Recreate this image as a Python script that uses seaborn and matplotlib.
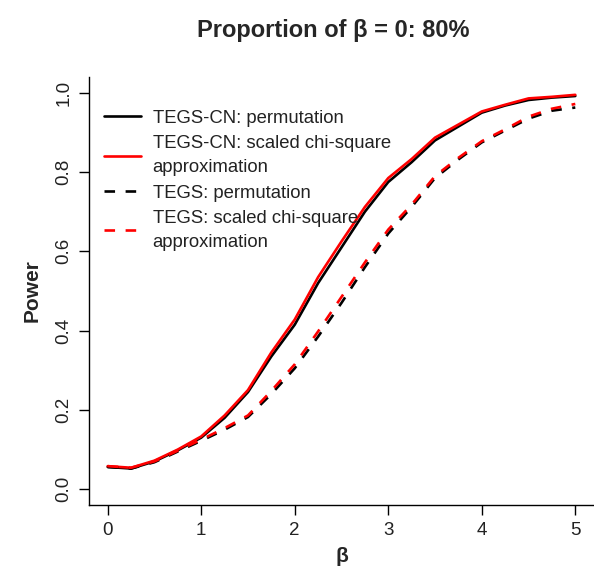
"""Power curves: TEGS-CN vs TEGS, permutation vs scaled chi-square approximation."""
import pandas as pd
import matplotlib
matplotlib.use("Agg")
import matplotlib.pyplot as plt
import seaborn as sns

beta = [0, 0.25, 0.5, 0.75, 1.0, 1.25, 1.5, 1.75, 2.0, 2.25, 2.5,
        2.75, 3.0, 3.25, 3.5, 3.75, 4.0, 4.25, 4.5, 4.75, 5.0]

tegscn_perm = [0.056, 0.052, 0.070, 0.098, 0.130, 0.180, 0.245, 0.335, 0.415, 0.520, 0.610,
               0.700, 0.775, 0.825, 0.880, 0.915, 0.950, 0.968, 0.982, 0.988, 0.992]
tegscn_chisq = [0.058, 0.054, 0.072, 0.100, 0.133, 0.186, 0.250, 0.345, 0.428, 0.535, 0.625,
                0.712, 0.785, 0.833, 0.887, 0.920, 0.953, 0.970, 0.986, 0.990, 0.995]
tegs_perm = [0.056, 0.052, 0.068, 0.095, 0.122, 0.150, 0.182, 0.240, 0.305, 0.385, 0.470,
             0.560, 0.645, 0.712, 0.785, 0.832, 0.875, 0.905, 0.935, 0.955, 0.963]
tegs_chisq = [0.058, 0.054, 0.070, 0.097, 0.125, 0.154, 0.186, 0.248, 0.315, 0.398, 0.485,
              0.572, 0.655, 0.718, 0.790, 0.836, 0.878, 0.908, 0.940, 0.960, 0.972]

labels = ["TEGS-CN: permutation",
          "TEGS-CN: scaled chi-square\napproximation",
          "TEGS: permutation",
          "TEGS: scaled chi-square\napproximation"]
x_ticks = [0, 1, 2, 3, 4, 5]
y_ticks = [0.0, 0.2, 0.4, 0.6, 0.8, 1.0]


def main():
    sns.set_style("ticks")
    plt.rcParams["font.family"] = ["Liberation Sans", "DejaVu Sans"]

    fig = plt.figure(figsize=(5.94, 5.72), dpi=100)
    ax = fig.add_axes([89 / 594, 67 / 572, 505 / 594, 428 / 572])

    series = [(tegscn_perm, "black", "-"),
              (tegscn_chisq, "#ff0000", "-"),
              (tegs_perm, "black", (0, (4, 4))),
              (tegs_chisq, "#ff0000", (0, (4, 4)))]
    for (vals, col, ls), lab in zip(series, labels):
        df = pd.DataFrame({"beta": beta, "power": vals})
        sns.lineplot(data=df, x="beta", y="power", color=col, linestyle=ls,
                     linewidth=1.9, label=lab, ax=ax)

    ax.set_xlim(-0.2, 5.2)
    ax.set_ylim(-0.04, 1.04)
    ax.set_xticks(x_ticks)
    ax.set_xticklabels([str(t) for t in x_ticks])
    ax.set_yticks(y_ticks)
    ax.set_yticklabels([f"{t:.1f}" for t in y_ticks], rotation=90, va="center")
    ax.tick_params(axis="both", direction="out", length=7, width=1, colors="black",
                   labelsize=13.5, labelcolor="#222222")
    ax.tick_params(axis="x", pad=5)
    ax.tick_params(axis="y", pad=5)
    for side in ["top", "right"]:
        ax.spines[side].set_visible(False)
    for side in ["left", "bottom"]:
        ax.spines[side].set_linewidth(1)
        ax.spines[side].set_color("black")

    ax.set_xlabel("β", fontsize=15, fontweight="bold", labelpad=6)
    ax.set_ylabel("Power", fontsize=15, fontweight="bold", labelpad=10)
    fig.suptitle("Proportion of β = 0: 80%", fontsize=17, fontweight="bold",
                 x=0.5606, y=0.967)

    leg = ax.legend(loc="upper left", bbox_to_anchor=(0.0, 0.958), frameon=False,
                    fontsize=13.3, handlelength=2.0, handletextpad=0.65,
                    labelspacing=0.45, borderaxespad=0.4)
    for t in leg.get_texts():
        t.set_color("#222222")
        t.set_linespacing(1.55)

    fig.savefig("out.png", dpi=100)


if __name__ == "__main__":
    main()
